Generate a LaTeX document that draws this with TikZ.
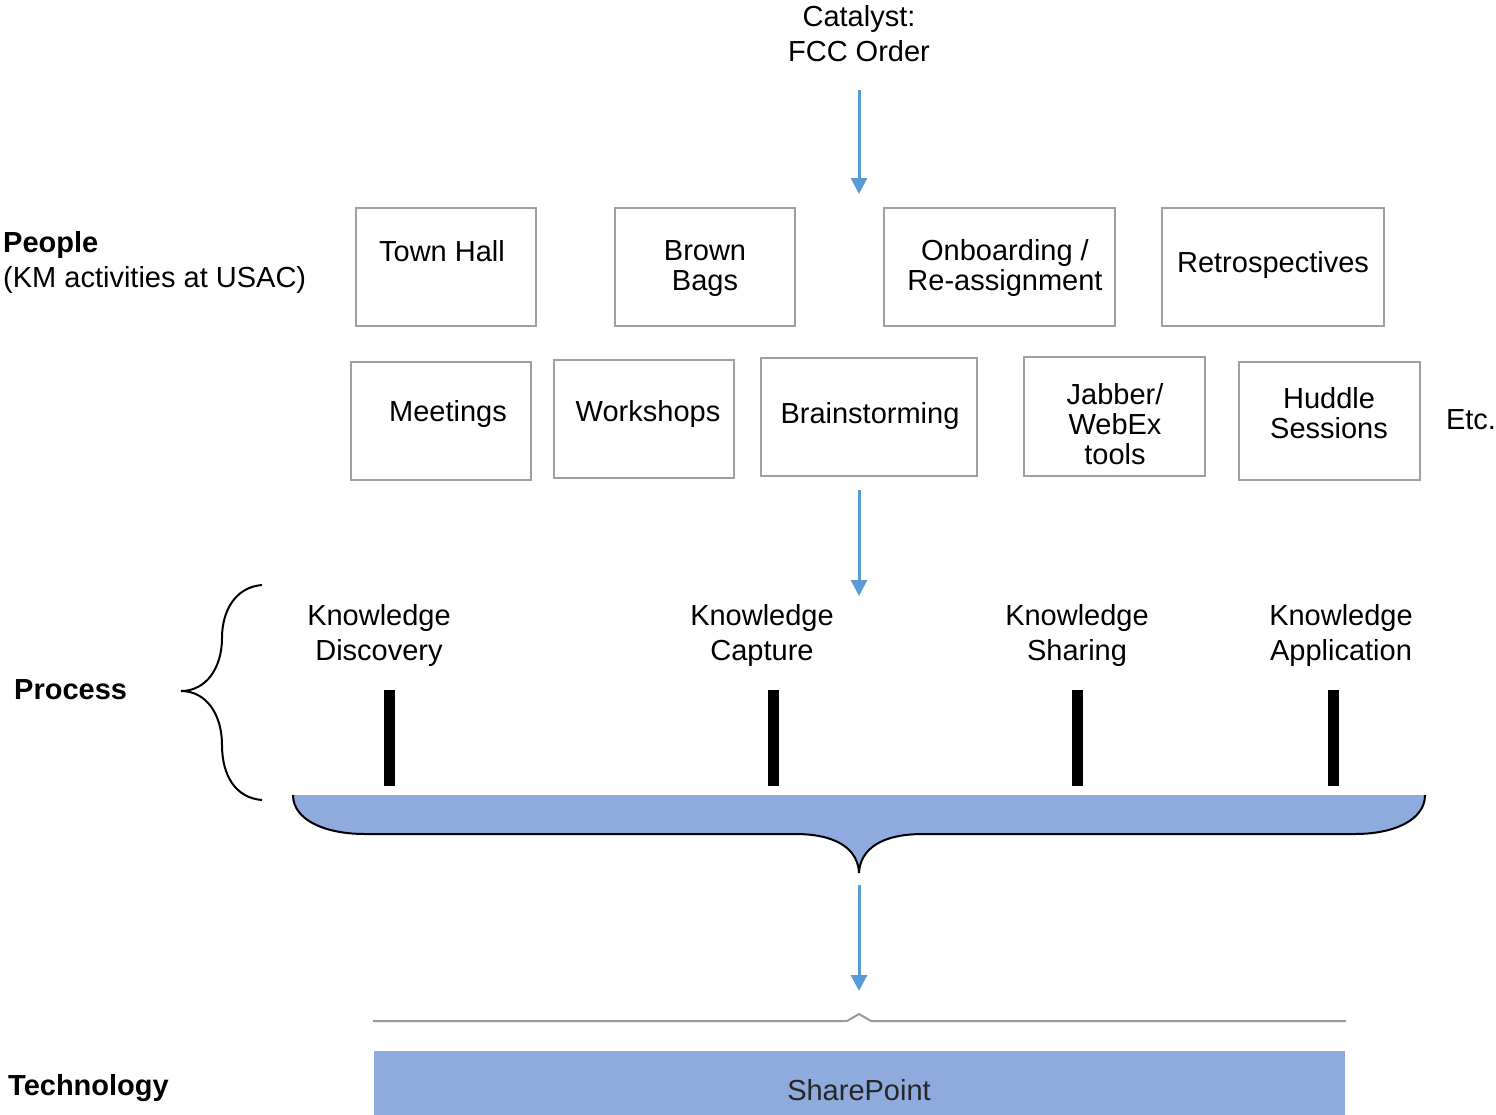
\documentclass[tikz,border=0pt]{standalone}
\usepackage{fontspec}
\setmainfont{Liberation Sans}
\usetikzlibrary{arrows.meta}
\definecolor{boxgray}{HTML}{A0A0A0}
\definecolor{flowblue}{HTML}{5B9BD5}
\definecolor{bandblue}{HTML}{8FAADC}
\definecolor{bracegray}{HTML}{999999}
\definecolor{darktext}{HTML}{262626}
\tikzset{
  box/.style={draw=boxgray, line width=2pt, inner sep=0pt},
  txt/.style={font=\fontsize{29}{30}\selectfont, inner sep=0pt, align=center},
  lbl/.style={font=\fontsize{29}{35}\selectfont, inner sep=0pt, align=center},
  side/.style={font=\fontsize{29}{35}\selectfont, inner sep=0pt, align=left, anchor=west},
  flow/.style={draw=flowblue, line width=3pt, -{Triangle[length=16pt,width=16pt]}},
  bar/.style={fill=black, inner sep=0pt, minimum width=11pt, minimum height=96pt},
}
\begin{document}
\begin{tikzpicture}[x=1pt, y=-1pt]
\useasboundingbox (0,0) rectangle (1496,1114);

% trigger
\node[lbl] (catalyst) at (859,34) {Catalyst:\\FCC Order};
\coordinate (a1s) at (859,90);
\coordinate (a1e) at (859,194);
\draw[flow] (a1s) -- (a1e);

% people row labels
\node[side] (people) at (3,262) {\textbf{People}\\(KM activities at USAC)};

% first row of activity boxes
\node[box, minimum width=180pt, minimum height=118pt] (th) at (446,267) {};
\node[txt] (tht) at (442,251) {Town Hall};
\node[box, minimum width=180pt, minimum height=118pt] (bb) at (705,267) {};
\node[txt] (bbt) at (705,269) {Brown\\Bags};
\node[box, minimum width=231pt, minimum height=118pt] (ob) at (999.5,267) {};
\node[txt] (obt) at (1005,268) {Onboarding /\\Re-assignment};
\node[box, minimum width=222pt, minimum height=118pt] (re) at (1273,267) {};
\node[txt] (ret) at (1273,265) {Retrospectives};

% second row of activity boxes
\node[box, minimum width=180pt, minimum height=118pt] (me) at (441,421) {};
\node[txt] (met) at (448,414) {Meetings};
\node[box, minimum width=180pt, minimum height=118pt] (ws) at (644,419) {};
\node[txt] (wst) at (648,414) {Workshops};
\node[box, minimum width=216pt, minimum height=118pt] (br) at (869,417) {};
\node[txt] (brt) at (870,416) {Brainstorming};
\node[box, minimum width=181pt, minimum height=119pt] (ja) at (1114.5,416.5) {};
\node[txt] (jat) at (1115,424) {Jabber/\\WebEx\\tools};
\node[box, minimum width=181pt, minimum height=118pt] (hu) at (1329.5,421) {};
\node[txt] (hut) at (1329,413) {Huddle\\Sessions};
\node[txt] (etc) at (1471,420) {Etc.};

\coordinate (a2s) at (859,490);
\coordinate (a2e) at (859,596);
\draw[flow] (a2s) -- (a2e);

% process
\node[side] (process) at (14,690) {\textbf{Process}};
\draw[line width=2pt] (262,585) .. controls (236,587) and (222,610) .. (222,638)
  .. controls (222,668) and (206,691) .. (181,691)
  .. controls (206,691) and (222,714) .. (222,745)
  .. controls (222,776) and (236,798) .. (262,800);

\node[lbl] (kd) at (379,635) {Knowledge\\Discovery};
\node[lbl] (kc) at (762,635) {Knowledge\\Capture};
\node[lbl] (ks) at (1077,635) {Knowledge\\Sharing};
\node[lbl] (ka) at (1341,635) {Knowledge\\Application};

\node[bar] (b1) at (389.5,738) {};
\node[bar] (b2) at (773,738) {};
\node[bar] (b3) at (1077,738) {};
\node[bar] (b4) at (1333,738) {};

% filled brace under the process stages
\draw[line width=2pt, fill=bandblue] (293,795) .. controls (293,820) and (325,834) .. (365,834)
  -- (795,834) .. controls (838,834) and (858,850) .. (859,873)
  .. controls (860,850) and (880,834) .. (923,834)
  -- (1355,834) .. controls (1394,834) and (1425,820) .. (1425,795);

\coordinate (a3s) at (859,885);
\coordinate (a3e) at (859,991);
\draw[flow] (a3s) -- (a3e);

% technology
\draw[bracegray, line width=2pt] (373,1021) -- (847,1021) -- (859,1014) -- (871,1021) -- (1346,1021);
\node[side] (tech) at (8,1088) {\textbf{Technology}};
\node[fill=bandblue, inner sep=0pt, minimum width=971pt, minimum height=64pt] (sp) at (859.5,1083) {};
\node[txt, text=darktext] (spt) at (859,1090) {SharePoint};
\end{tikzpicture}
\end{document}
